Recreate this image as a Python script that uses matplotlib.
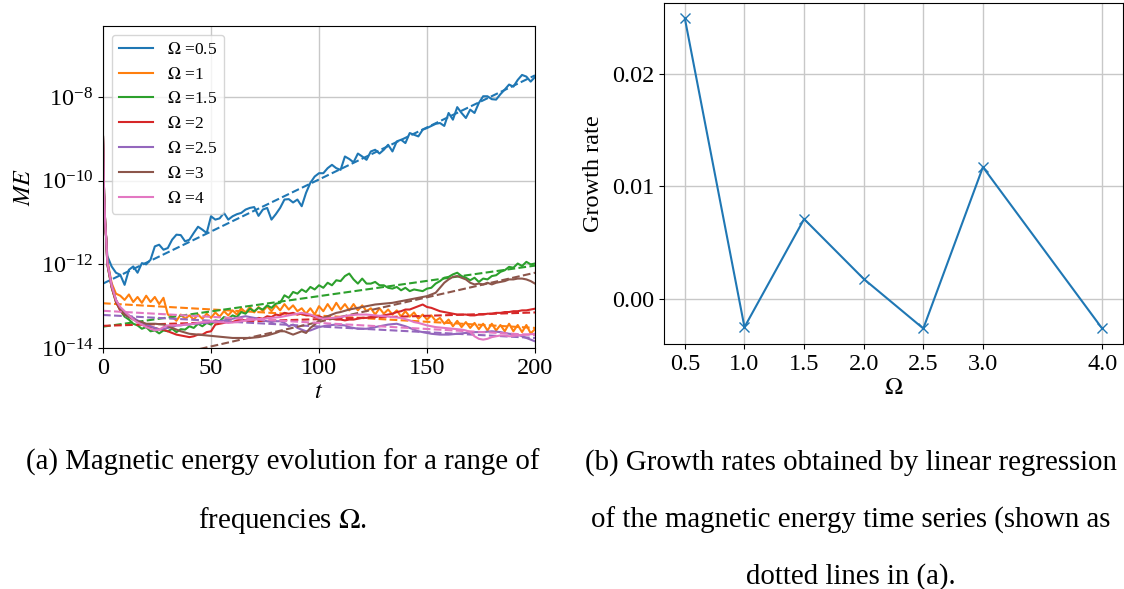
import numpy as np
import matplotlib
matplotlib.use("Agg")
import matplotlib.pyplot as plt

plt.rcParams['font.family'] = 'serif'
plt.rcParams['font.serif'] = ['Liberation Serif', 'DejaVu Serif']
plt.rcParams['mathtext.fontset'] = 'stix'

# ---------------- data ----------------
# time samples
t_early = [0, 0.5, 1, 1.5]
t_main = list(range(2, 201, 2))
t = np.array(t_early + t_main, dtype=float)

omega_labels = ['0.5', '1', '1.5', '2', '2.5', '3', '4']

start = [-8.95, -10.3, -11.0, -11.4]  # shared initial transient (log10 ME)

me_05 = start + [
    -11.8, -12.05, -12.2, -12.25, -12.49, -12.13, -12.05, -12.2, -11.97, -12.0,
    -11.89, -11.57, -11.53, -11.65, -11.61, -11.41, -11.29, -11.3, -11.45, -11.41,
    -11.25, -11.1, -11.17, -11.25, -10.85, -10.93, -10.9, -10.77, -10.93, -10.85,
    -10.8, -10.77, -10.69, -10.65, -10.63, -10.84, -10.69, -10.65, -10.93, -10.8,
    -10.65, -10.45, -10.44, -10.52, -10.45, -10.61, -10.29, -10.05, -9.9, -9.82,
    -9.82, -9.7, -9.62, -9.7, -9.74, -9.42, -9.48, -9.56, -9.35, -9.42,
    -9.5, -9.3, -9.26, -9.35, -9.26, -9.14, -9.3, -9.06, -9.02, -9.1,
    -8.86, -8.9, -8.94, -8.78, -8.74, -8.69, -8.64, -8.62, -8.69, -8.38,
    -8.54, -8.24, -8.38, -8.5, -8.3, -8.38, -8.14, -7.98, -7.98, -8.05,
    -8.06, -7.93, -7.82, -7.7, -7.75, -7.59, -7.47, -7.51, -7.63, -7.52]

me_1 = start + [
    -11.9, -12.45, -12.7, -12.75, -12.85, -12.72, -12.9, -12.78, -12.92, -12.75,
    -12.9, -12.78, -12.95, -12.8, -13.2, -13.25, -13.35, -13.2, -13.3, -13.22,
    -13.32, -13.2, -13.3, -13.18, -13.28, -13.15, -13.25, -13.12, -13.22, -13.1,
    -13.2, -13.05, -13.15, -13.02, -13.15, -13.02, -13.12, -13.0, -13.12, -12.98,
    -13.1, -12.95, -13.08, -12.98, -13.12, -13.05, -13.18, -13.05, -13.2, -13.0,
    -13.12, -12.95, -13.1, -12.92, -13.08, -12.95, -13.1, -12.95, -13.1, -12.98,
    -13.12, -13.05, -13.2, -13.05, -13.18, -13.08, -13.2, -13.1, -13.25, -13.12,
    -13.25, -13.15, -13.3, -13.2, -13.32, -13.22, -13.35, -13.28, -13.42, -13.32,
    -13.48, -13.35, -13.5, -13.38, -13.52, -13.4, -13.55, -13.42, -13.58, -13.42,
    -13.58, -13.45, -13.6, -13.42, -13.6, -13.45, -13.62, -13.45, -13.65, -13.55]

me_15 = start + [
    -12.0, -12.55, -12.9, -13.1, -13.25, -13.32, -13.42, -13.46, -13.54, -13.5,
    -13.6, -13.58, -13.65, -13.58, -13.6, -13.54, -13.62, -13.55, -13.56, -13.48,
    -13.52, -13.42, -13.48, -13.4, -13.44, -13.34, -13.36, -13.26, -13.3, -13.22,
    -13.26, -13.14, -13.18, -13.06, -13.12, -13.04, -13.08, -12.98, -13.04, -12.94,
    -12.92, -12.74, -12.8, -12.66, -12.7, -12.6, -12.66, -12.54, -12.6, -12.5,
    -12.56, -12.44, -12.5, -12.38, -12.4, -12.28, -12.22, -12.36, -12.46, -12.34,
    -12.46, -12.46, -12.42, -12.5, -12.5, -12.56, -12.58, -12.54, -12.62, -12.56,
    -12.64, -12.6, -12.62, -12.64, -12.58, -12.56, -12.46, -12.4, -12.32, -12.3,
    -12.24, -12.2, -12.28, -12.32, -12.38, -12.32, -12.42, -12.34, -12.36, -12.28,
    -12.26, -12.18, -12.14, -12.06, -12.08, -11.98, -12.04, -11.94, -12.0, -11.98]

me_2 = start + [
    -12.0, -12.55, -12.9, -13.1, -13.2, -13.25, -13.28, -13.38, -13.44, -13.48,
    -13.5, -13.52, -13.55, -13.56, -13.6, -13.64, -13.68, -13.7, -13.72, -13.74,
    -13.72, -13.68, -13.68, -13.62, -13.6, -13.44, -13.42, -13.4, -13.36, -13.38,
    -13.34, -13.32, -13.34, -13.3, -13.32, -13.28, -13.3, -13.24, -13.26, -13.2,
    -13.22, -13.16, -13.18, -13.16, -13.2, -13.18, -13.22, -13.22, -13.26, -13.24,
    -13.28, -13.28, -13.3, -13.32, -13.32, -13.34, -13.32, -13.32, -13.3, -13.28,
    -13.28, -13.26, -13.26, -13.24, -13.22, -13.2, -13.18, -13.14, -13.12, -13.08,
    -13.08, -13.04, -13.0, -12.96, -13.02, -13.04, -13.08, -13.12, -13.14, -13.16,
    -13.18, -13.2, -13.2, -13.2, -13.22, -13.22, -13.2, -13.2, -13.18, -13.18,
    -13.16, -13.16, -13.14, -13.14, -13.12, -13.12, -13.1, -13.1, -13.08, -13.06]

me_25 = start + [
    -11.95, -12.5, -12.85, -13.05, -13.16, -13.22, -13.28, -13.34, -13.4, -13.44,
    -13.48, -13.52, -13.56, -13.54, -13.52, -13.5, -13.46, -13.46, -13.44, -13.44,
    -13.42, -13.42, -13.4, -13.4, -13.38, -13.38, -13.36, -13.34, -13.32, -13.3,
    -13.28, -13.26, -13.24, -13.26, -13.28, -13.3, -13.34, -13.36, -13.38, -13.36,
    -13.36, -13.4, -13.48, -13.44, -13.52, -13.56, -13.6, -13.58, -13.54, -13.5,
    -13.48, -13.46, -13.45, -13.44, -13.45, -13.46, -13.5, -13.52, -13.54, -13.54,
    -13.54, -13.52, -13.5, -13.48, -13.46, -13.44, -13.43, -13.42, -13.45, -13.48,
    -13.52, -13.56, -13.6, -13.62, -13.64, -13.66, -13.67, -13.68, -13.68, -13.68,
    -13.67, -13.66, -13.65, -13.64, -13.64, -13.62, -13.62, -13.62, -13.61, -13.6,
    -13.61, -13.62, -13.64, -13.66, -13.67, -13.68, -13.72, -13.76, -13.8, -13.84]

me_3 = start + [
    -11.95, -12.5, -12.85, -13.05, -13.2, -13.26, -13.32, -13.36, -13.38, -13.42,
    -13.42, -13.42, -13.43, -13.44, -13.48, -13.52, -13.56, -13.6, -13.63, -13.66,
    -13.67, -13.68, -13.69, -13.7, -13.71, -13.72, -13.73, -13.74, -13.75, -13.76,
    -13.76, -13.76, -13.76, -13.76, -13.75, -13.74, -13.72, -13.7, -13.67, -13.64,
    -13.6, -13.6, -13.64, -13.68, -13.64, -13.6, -13.64, -13.52, -13.44, -13.34,
    -13.28, -13.24, -13.2, -13.16, -13.14, -13.11, -13.08, -13.06, -13.04, -13.02,
    -13.0, -12.98, -12.96, -12.95, -12.94, -12.93, -12.92, -12.9, -12.88, -12.86,
    -12.84, -12.82, -12.8, -12.78, -12.76, -12.72, -12.68, -12.56, -12.44, -12.36,
    -12.3, -12.28, -12.32, -12.36, -12.44, -12.48, -12.46, -12.48, -12.44, -12.48,
    -12.44, -12.42, -12.4, -12.36, -12.36, -12.34, -12.34, -12.36, -12.4, -12.46]

me_4 = start + [
    -11.95, -12.5, -12.85, -13.02, -13.12, -13.22, -13.32, -13.39, -13.44, -13.5,
    -13.54, -13.58, -13.56, -13.5, -13.46, -13.46, -13.46, -13.45, -13.44, -13.43,
    -13.42, -13.4, -13.38, -13.37, -13.36, -13.37, -13.38, -13.39, -13.4, -13.39,
    -13.38, -13.36, -13.34, -13.33, -13.32, -13.31, -13.3, -13.29, -13.28, -13.27,
    -13.26, -13.24, -13.22, -13.2, -13.18, -13.16, -13.18, -13.2, -13.24, -13.28,
    -13.3, -13.29, -13.28, -13.27, -13.26, -13.24, -13.22, -13.21, -13.2, -13.2,
    -13.2, -13.21, -13.22, -13.23, -13.24, -13.25, -13.26, -13.27, -13.28, -13.31,
    -13.34, -13.38, -13.4, -13.43, -13.46, -13.48, -13.5, -13.51, -13.52, -13.53,
    -13.54, -13.55, -13.56, -13.58, -13.62, -13.72, -13.78, -13.8, -13.78, -13.74,
    -13.72, -13.7, -13.7, -13.72, -13.71, -13.7, -13.69, -13.68, -13.67, -13.66]

# linear-regression fits (log10 ME at t=0 and t=200)
fit_t = [0, 200]
fit_05 = [-12.46, -7.48]
fit_1 = [-12.93, -13.52]
fit_15 = [-13.49, -12.03]
fit_2 = [-13.47, -13.15]
fit_25 = [-13.21, -13.76]
fit_3 = [-14.55, -12.2]
fit_4 = [-13.11, -13.69]

# growth rates
omega = [0.5, 1.0, 1.5, 2.0, 2.5, 3.0, 4.0]
growth = [0.0249, -0.00254, 0.00707, 0.00175, -0.00266, 0.01169, -0.00266]

series = [me_05, me_1, me_15, me_2, me_25, me_3, me_4]
fits = [fit_05, fit_1, fit_15, fit_2, fit_25, fit_3, fit_4]
colors = ['#1f77b4', '#ff7f0e', '#2ca02c', '#d62728', '#9467bd', '#8c564b', '#e377c2']

# ---------------- figure ----------------
fig = plt.figure(figsize=(11.24, 5.89), dpi=100)

ax1 = fig.add_axes([103/1124, 1 - 348/589, (535 - 103)/1124, (348 - 26)/589])
for lab, ys, fy, c in zip(omega_labels, series, fits, colors):
    ax1.plot(t, 10.0 ** np.array(ys), color=c, lw=1.5, label=r'$\Omega$ =' + lab)
    ax1.plot(fit_t, 10.0 ** np.array(fy), color=c, lw=1.5, ls='--')
ax1.set_yscale('log')
ax1.set_xlim(0, 200)
ax1.set_ylim(1e-14, 10 ** -6.3)
ax1.set_yticks([1e-14, 1e-12, 1e-10, 1e-8])
ax1.yaxis.set_minor_locator(matplotlib.ticker.NullLocator())
ax1.set_xticks([0, 50, 100, 150, 200])
ax1.grid(True, color='#c8c8c8', lw=1.0)
ax1.set_axisbelow(True)
ax1.tick_params(labelsize=17.5)
ax1.set_xlabel(r'$t$', fontsize=17.5, labelpad=2)
ax1.set_ylabel(r'$ME$', fontsize=17.5, labelpad=4)
ax1.legend(loc='upper left', fontsize=12.5, framealpha=0.8)

ax2 = fig.add_axes([664/1124, 1 - 344/589, (1123 - 664)/1124, (344 - 3)/589])
ax2.plot(omega, growth, color='#1f77b4', marker='x', lw=1.5, ms=7)
ax2.set_xticks(omega)
ax2.set_xticklabels(['0.5', '1.0', '1.5', '2.0', '2.5', '3.0', '4.0'])
ax2.set_yticks([0.0, 0.01, 0.02])
ax2.set_yticklabels(['0.00', '0.01', '0.02'])
ax2.grid(True, color='#c8c8c8', lw=1.0)
ax2.set_axisbelow(True)
ax2.tick_params(labelsize=17.5)
ax2.set_xlabel(r'$\Omega$', fontsize=17.5, labelpad=2)
ax2.set_ylabel('Growth rate', fontsize=17.5, labelpad=6)

cap = 20.8
fig.text(283/1124, 1 - 470/589, '(a) Magnetic energy evolution for a range of',
         ha='center', va='baseline', fontsize=cap)
fig.text(283/1124, 1 - 528/589, r'frequencies $\Omega$.',
         ha='center', va='baseline', fontsize=cap)
fig.text(851/1124, 1 - 470/589, '(b) Growth rates obtained by linear regression',
         ha='center', va='baseline', fontsize=cap)
fig.text(851/1124, 1 - 528/589, 'of the magnetic energy time series (shown as',
         ha='center', va='baseline', fontsize=cap)
fig.text(851/1124, 1 - 584/589, 'dotted lines in (a).',
         ha='center', va='baseline', fontsize=cap)

fig.savefig('out.png', dpi=100)
